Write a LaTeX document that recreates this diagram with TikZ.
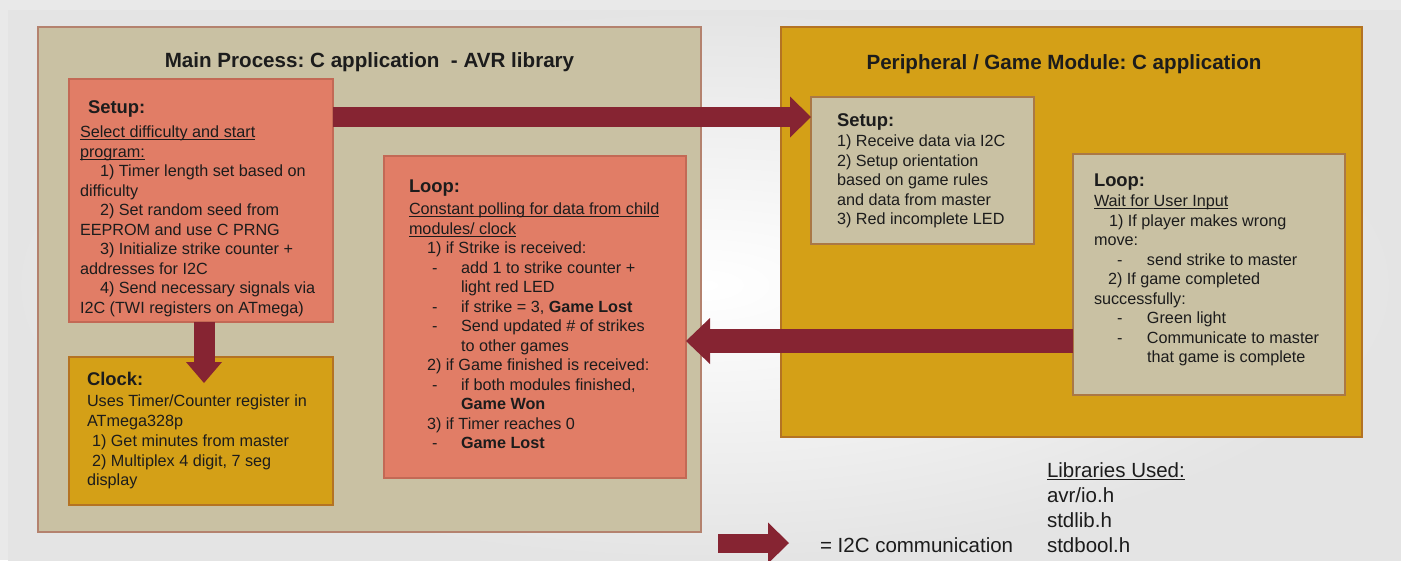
\documentclass[tikz,border=0pt]{standalone}
\usepackage{fontspec}
\setmainfont{Liberation Sans}
\usetikzlibrary{arrows.meta}
\frenchspacing
\definecolor{tanc}{RGB}{201,193,163}
\definecolor{redc}{RGB}{225,125,102}
\definecolor{goldc}{RGB}{212,160,23}
\definecolor{arrowc}{RGB}{134,36,50}
\definecolor{mainborder}{RGB}{180,130,110}
\definecolor{redborder}{RGB}{195,105,85}
\definecolor{goldborder}{RGB}{180,115,35}
\definecolor{tanborder}{RGB}{170,120,70}
\definecolor{textc}{RGB}{28,28,28}
\definecolor{bgc}{RGB}{233,233,233}
\definecolor{bgouter}{RGB}{228,228,228}
\newcommand\bdyfont{\fontsize{16.2}{19.5}\selectfont}
\newcommand\hdfont{\fontsize{18.4}{19.5}\selectfont\bfseries}
\newsavebox\ulbox
\newcommand\uln[1]{\sbox\ulbox{#1}\rlap{\rule[-2.3pt]{\wd\ulbox}{0.8pt}}\usebox\ulbox}
\newcommand\dsh{\hspace*{23pt}\makebox[29pt][l]{-}}
\newcommand\dshb{\hspace*{23pt}\makebox[30pt][l]{-}}
\begin{document}
\begin{tikzpicture}[x=1pt,y=-1pt,
  panel/.style={draw, line width=1.1pt, inner sep=0pt, outer sep=0pt, anchor=north west},
  mainpanel/.style={panel, fill=tanc, draw=mainborder},
  redbox/.style={panel, fill=redc, draw=redborder},
  goldbox/.style={panel, fill=goldc, draw=goldborder},
  tanbox/.style={panel, fill=tanc, draw=tanborder},
  txt/.style={inner sep=0pt, outer sep=0pt, anchor=north west, align=left, text=textc, font=\bdyfont},
  title/.style={inner sep=0pt, outer sep=0pt, anchor=base, text=textc, font=\fontsize{20.6}{24}\selectfont\bfseries},
  legend/.style={inner sep=0pt, outer sep=0pt, align=left, text=textc, font=\fontsize{20.5}{25}\selectfont},
  barrow/.style n args={3}{draw=arrowc, line width=#1, -{Triangle[length=#2, width=#3, line width=0pt]}}
]
\useasboundingbox (0,0) rectangle (1401,560);
\fill[bgc] (0,0) rectangle (1401,560);
\shade[inner color=white, outer color=bgouter] (8,10) rectangle (1401,560);

% main process panel
\node[mainpanel, minimum width=663pt, minimum height=505pt] (main) at (38,27) {};
\node[title] (maintitle) at (369.5,67.5) {Main Process: C application\ \ - AVR library};
\node[redbox, minimum width=264pt, minimum height=243pt] (msetup) at (69,79) {};
\node[goldbox, minimum width=264pt, minimum height=148pt] (mclock) at (69,357) {};
\node[redbox, minimum width=302pt, minimum height=322pt] (mloop) at (384,156) {};

% peripheral panel
\node[goldbox, minimum width=581pt, minimum height=410pt] (peri) at (781,27) {};
\node[title] (perititle) at (1064,69) {Peripheral / Game Module: C application};
\node[tanbox, minimum width=223pt, minimum height=147pt] (psetup) at (811,97) {};
\node[tanbox, minimum width=272pt, minimum height=241pt] (ploop) at (1073,154) {};

% texts
\node[txt] (msetuptext) at (80,97.5) {\rule{0pt}{16pt}\hspace*{8pt}{\hdfont Setup:}\\[4.5pt]
\uln{Select difficulty and start}\\
\uln{program:}\\
\hspace*{20pt}1) Timer length set based on\\
difficulty\\
\hspace*{20pt}2) Set random seed from\\
EEPROM and use C PRNG\\
\hspace*{20pt}3) Initialize strike counter +\\
addresses for I2C\\
\hspace*{20pt}4) Send necessary signals via\\
I2C (TWI registers on ATmega)};

\node[txt, font=\fontsize{16.2}{19.75}\selectfont] (mclocktext) at (87,369.5) {\rule{0pt}{16pt}{\hdfont Clock:}\\[1.5pt]
Uses Timer/Counter register in\\
ATmega328p\\
\hspace*{5pt}1) Get minutes from master\\
\hspace*{5pt}2) Multiplex 4 digit, 7 seg\\
display};

\node[txt] (mlooptext) at (409,176.5) {\rule{0pt}{16pt}{\hdfont Loop:}\\[2.5pt]
\uln{Constant polling for data from child}\\
\uln{modules/ clock}\\
\hspace*{18pt}1) if Strike is received:\\
\dsh add 1 to strike counter +\\
\hspace*{52pt}light red LED\\
\dsh if strike = 3, \textbf{Game Lost}\\
\dsh Send updated \# of strikes\\
\hspace*{52pt}to other games\\
\hspace*{18pt}2) if Game finished is received:\\
\dsh if both modules finished,\\
\hspace*{52pt}\textbf{Game Won}\\
\hspace*{18pt}3) if Timer reaches 0\\
\dsh \textbf{Game Lost}};

\node[txt] (psetuptext) at (837,110.5) {\rule{0pt}{16pt}{\hdfont Setup:}\\[0.5pt]
1) Receive data via I2C\\
2) Setup orientation\\
based on game rules\\
and data from master\\
3) Red incomplete LED};

\node[txt] (plooptext) at (1094,170.5) {\rule{0pt}{16pt}{\hdfont Loop:}\\[0.5pt]
\uln{Wait for User Input}\\
\hspace*{15pt}1) If player makes wrong\\
move:\\
\dshb send strike to master\\
\hspace*{14pt}2) If game completed\\
successfully:\\
\dshb Green light\\
\dshb Communicate to master\\
\hspace*{53pt}that game is complete};

% I2C arrows
\draw[barrow={20pt}{21pt}{41pt}] ([yshift=-38pt]msetup.north east) -- ([yshift=-20pt]psetup.north west);
\draw[barrow={24pt}{24pt}{46pt}] ([yshift=-187pt]ploop.north west) -- ([yshift=-185pt]mloop.north east);
\draw[barrow={21pt}{21pt}{36pt}] ([xshift=3pt]msetup.south) -- ([xshift=3pt,yshift=-26pt]mclock.north);

% legend
\node[legend, anchor=base west] (legtext) at (820,552) {= I2C communication};
\coordinate (legstart) at (718,543);
\draw[barrow={19pt}{21pt}{41pt}] (legstart) -- ([xshift=-31pt]legtext.west |- legstart);
\node[legend, anchor=north west] (libs) at (1047,459) {\rule{0pt}{18pt}\uln{Libraries Used:}\\
avr/io.h\\
stdlib.h\\
stdbool.h};
\end{tikzpicture}
\end{document}
